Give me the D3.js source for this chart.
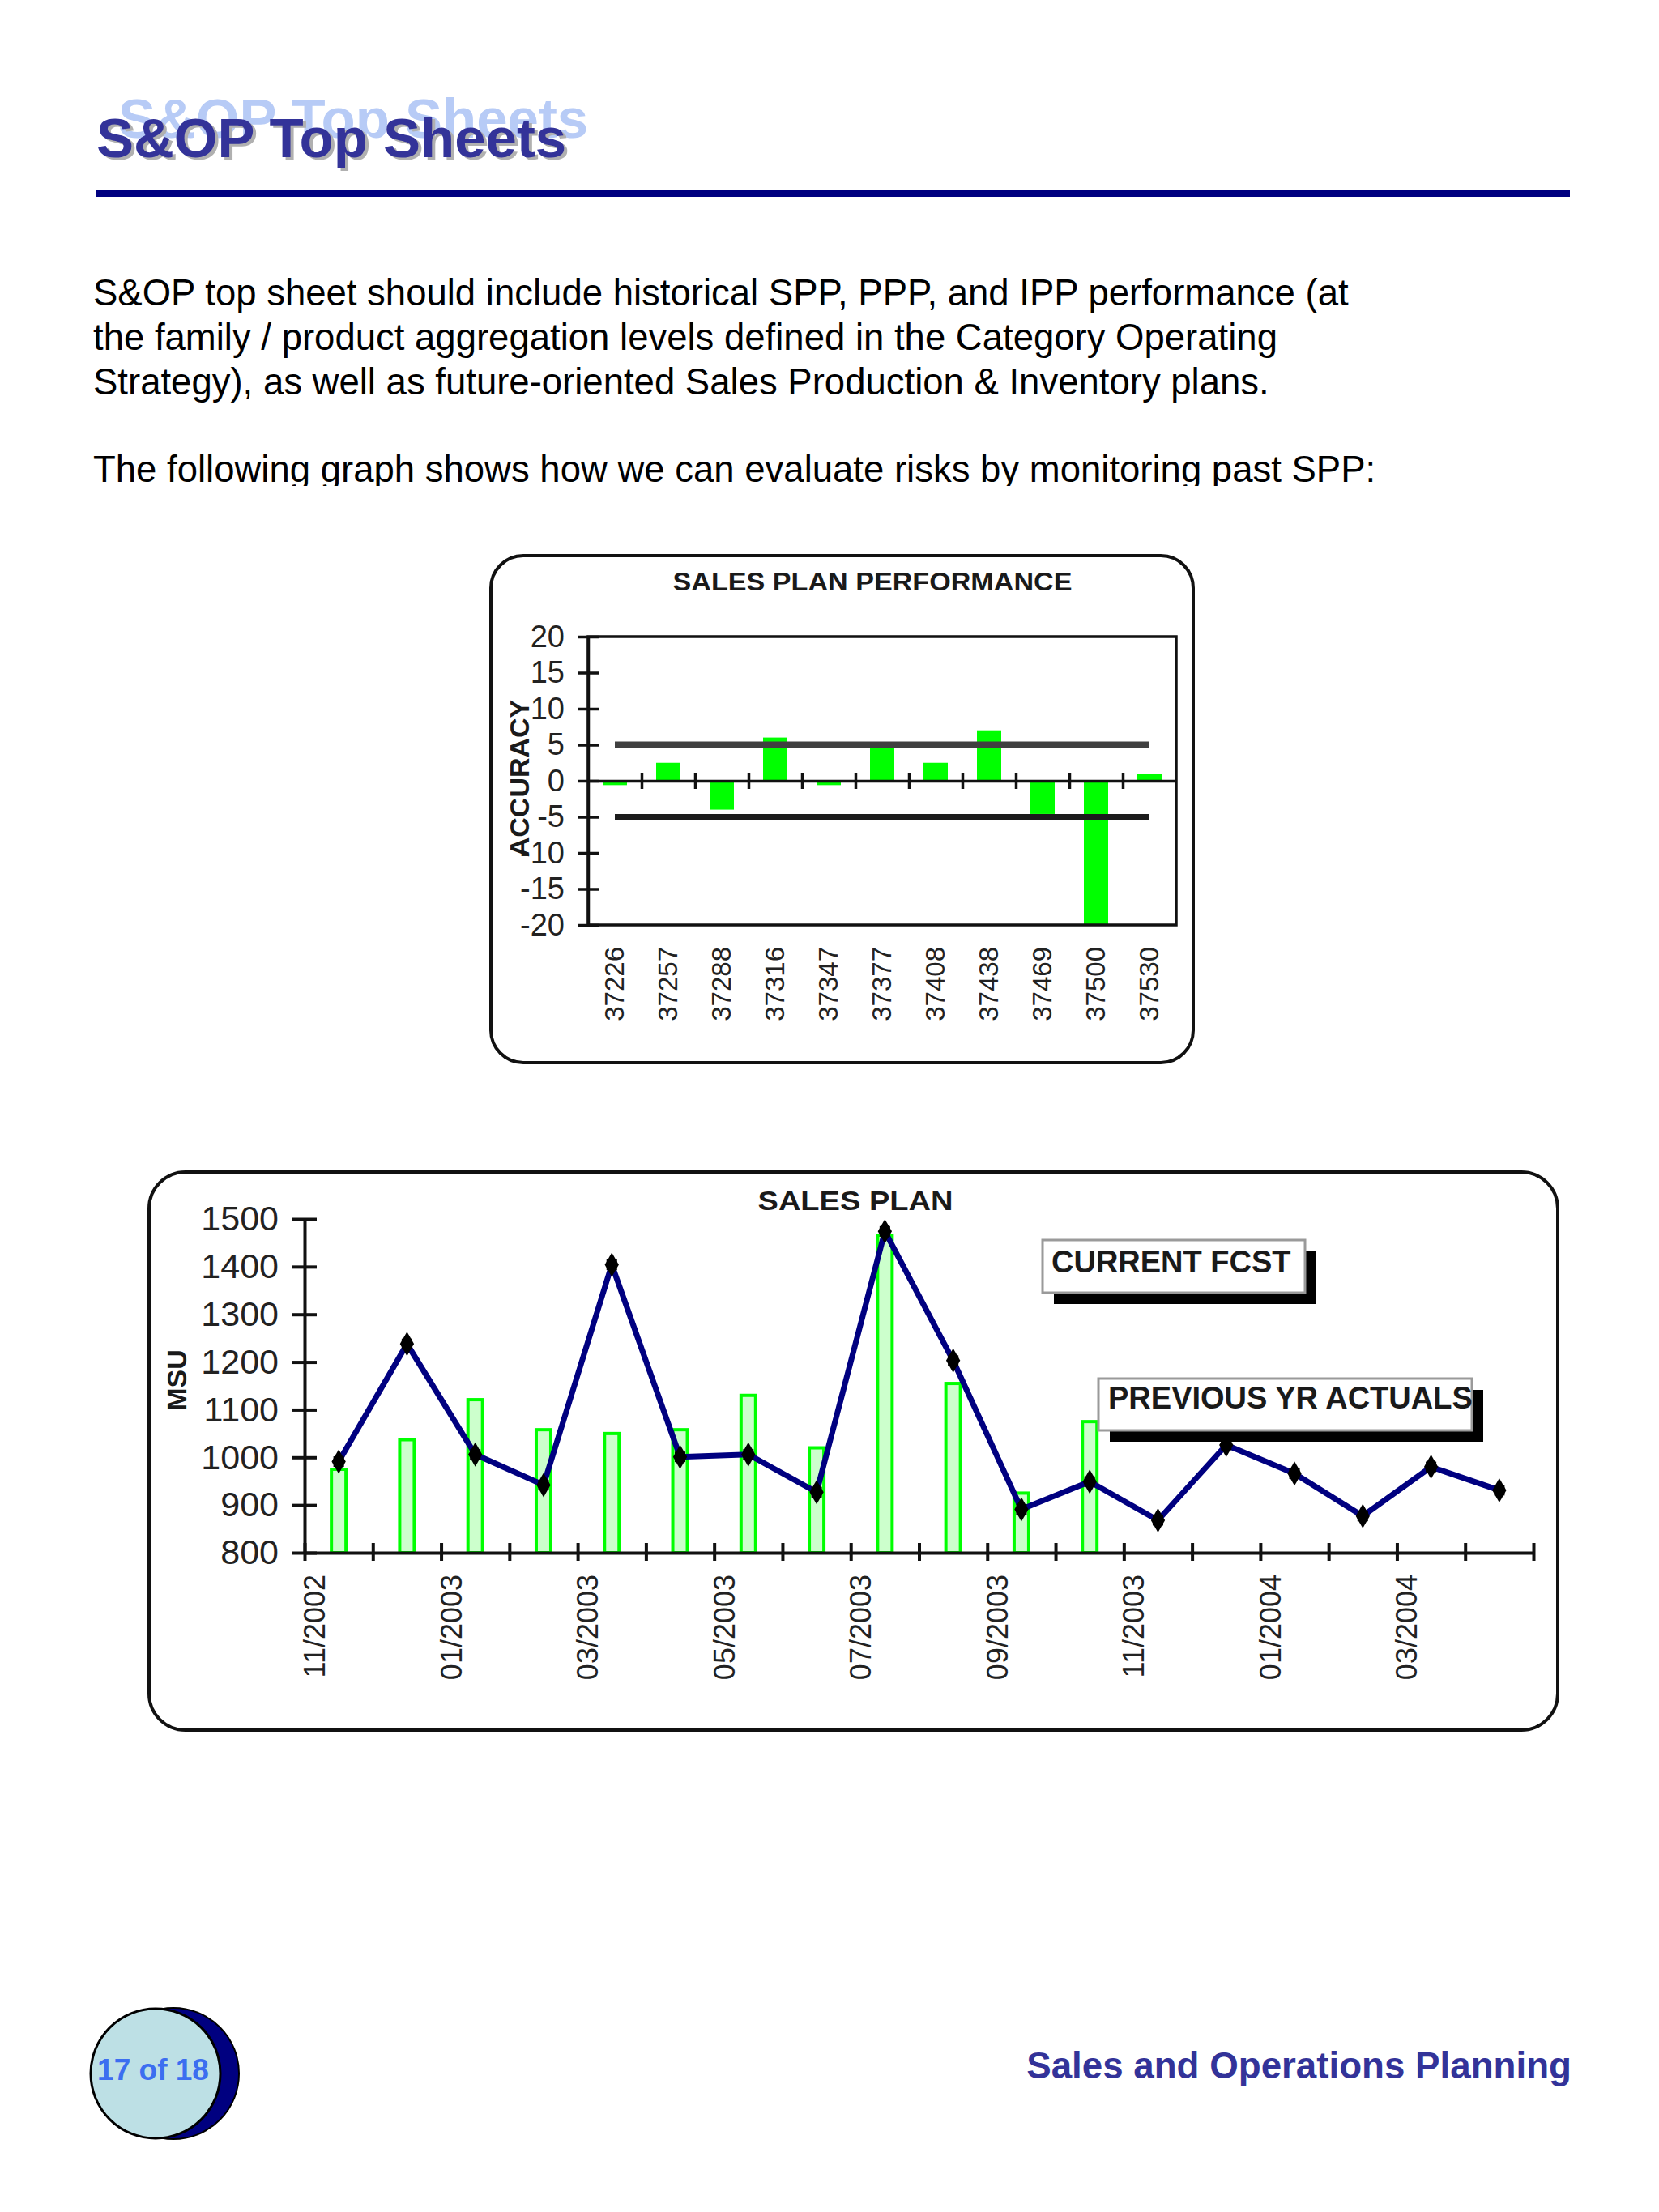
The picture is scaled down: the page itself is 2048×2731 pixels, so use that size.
<!DOCTYPE html>
<html>
<head>
<meta charset="utf-8">
<script src="https://cdn.jsdelivr.net/npm/d3@7"></script>
<style>
  body { margin: 0; background: #fff; }
  svg { display: block; }
  text { font-family: "Liberation Sans", Arial, sans-serif; }
</style>
</head>
<body>
<div id="page"></div>
<script>
// ---- top chart: sales plan performance
const sppCategories = ["37226", "37257", "37288", "37316", "37347", "37377", "37408", "37438", "37469", "37500", "37530"];
const sppAccuracy = [-0.6, 2.5, -4, 6, -0.6, 5, 2.5, 7, -4.6, -20, 1];
const sppUpperLimit = [5, 5, 5, 5, 5, 5, 5, 5, 5, 5, 5];
const sppLowerLimit = [-5, -5, -5, -5, -5, -5, -5, -5, -5, -5, -5];
const sppYTicks = [-20, -15, -10, -5, 0, 5, 10, 15, 20];

// ---- bottom chart: sales plan
const planMonths = ["11/2002", "12/2002", "01/2003", "02/2003", "03/2003", "04/2003", "05/2003", "06/2003", "07/2003",
  "08/2003", "09/2003", "10/2003", "11/2003", "12/2003", "01/2004", "02/2004", "03/2004", "04/2004"];
const planTickLabels = ["11/2002", "01/2003", "03/2003", "05/2003", "07/2003", "09/2003", "11/2003", "01/2004", "03/2004"];
const currentFcst = [991, 1238, 1006, 942, 1404, 1001, 1006, 927, 1474, 1203, 891, 949, 868, 1026, 966, 877, 980, 931];
const previousYrActuals = [975, 1037, 1121, 1058, 1050, 1058, 1130, 1020, 1466, 1155, 925, 1075, null, null, null, null, null, null];
const planYTicks = [800, 900, 1000, 1100, 1200, 1300, 1400, 1500];
const planLegend = ["CURRENT FCST", "PREVIOUS YR ACTUALS"];

// ---- page text
const bodyLines = [
  "S&OP top sheet should include historical SPP, PPP, and IPP performance (at",
  "the family / product aggregation levels defined in the Category Operating",
  "Strategy), as well as future-oriented Sales Production & Inventory plans."
];
const bodyLast = "The following graph shows how we can evaluate risks by monitoring past SPP:";

const svg = d3.select("#page").append("svg")
  .attr("width", 2048)
  .attr("height", 2731);

svg.append("rect").attr("width", 2048).attr("height", 2731).attr("fill", "#fff");

const chartFont = "'Liberation Sans', Arial, sans-serif";

// ---------- header
const title = "S&OP Top Sheets";
svg.append("text").attr("x", 146).attr("y", 170)
  .style("font-size", "69px").style("font-weight", "bold").attr("fill", "#b7cbf6").text(title);
svg.append("text").attr("x", 123).attr("y", 197)
  .style("font-size", "69px").style("font-weight", "bold").attr("fill", "#b0b0b0").text(title);
svg.append("text").attr("x", 119).attr("y", 194)
  .style("font-size", "69px").style("font-weight", "bold").attr("fill", "#333399").text(title);

svg.append("rect").attr("x", 118).attr("y", 235).attr("width", 1820).attr("height", 8).attr("fill", "#000080");

// body paragraph
svg.selectAll(".body-line")
  .data(bodyLines)
  .join("text")
  .attr("class", "body-line")
  .attr("x", 115)
  .attr("y", (d, i) => 377 + i * 55)
  .style("font-size", "45.5px")
  .attr("fill", "#000")
  .text((d) => d);

svg.append("clipPath").attr("id", "cutLast")
  .append("rect").attr("x", 0).attr("y", 540).attr("width", 2048).attr("height", 60);
svg.append("text")
  .attr("x", 115).attr("y", 595)
  .attr("clip-path", "url(#cutLast)")
  .style("font-size", "45.5px")
  .attr("fill", "#000")
  .text(bodyLast);

// ---------- top chart
const c1 = svg.append("g");
c1.append("rect")
  .attr("x", 606).attr("y", 686).attr("width", 867).attr("height", 626).attr("rx", 40)
  .attr("fill", "#fff").attr("stroke", "#111").attr("stroke-width", 4);

c1.append("text")
  .attr("x", 1077).attr("y", 729)
  .attr("text-anchor", "middle")
  .attr("textLength", 493).attr("lengthAdjust", "spacingAndGlyphs")
  .style("font-size", "32px").style("font-weight", "bold")
  .attr("fill", "#1a1a1a")
  .text("SALES PLAN PERFORMANCE");

const p1 = { left: 726, right: 1452, top: 786, bottom: 1142 };
const x1 = d3.scaleBand().domain(sppCategories).range([p1.left, p1.right]);
const x1Idx = d3.scaleLinear().domain([0, sppCategories.length]).range([p1.left, p1.right]);
const y1 = d3.scaleLinear().domain([-20, 20]).range([p1.bottom, p1.top]);

// bars
const barW1 = 30;
c1.selectAll(".spp-bar")
  .data(sppAccuracy)
  .join("rect")
  .attr("class", "spp-bar")
  .attr("x", (d, i) => x1(sppCategories[i]) + (x1.bandwidth() - barW1) / 2)
  .attr("width", barW1)
  .attr("y", (d) => y1(Math.max(0, d)))
  .attr("height", (d) => Math.abs(y1(d) - y1(0)))
  .attr("fill", "#00ff00");

// limit lines
const limitLine = d3.line()
  .x((d, i) => x1(sppCategories[i]) + x1.bandwidth() / 2)
  .y((d) => y1(d));
c1.append("path").datum(sppUpperLimit).attr("d", limitLine)
  .attr("fill", "none").attr("stroke", "#404040").attr("stroke-width", 8);
c1.append("path").datum(sppLowerLimit).attr("d", limitLine)
  .attr("fill", "none").attr("stroke", "#1c1c1c").attr("stroke-width", 7);

// plot border
c1.append("rect")
  .attr("x", p1.left).attr("y", p1.top)
  .attr("width", p1.right - p1.left).attr("height", p1.bottom - p1.top)
  .attr("fill", "none").attr("stroke", "#111").attr("stroke-width", 3.5);

// y axis
const yAxis1 = c1.append("g")
  .attr("transform", `translate(${p1.left},0)`)
  .call(d3.axisLeft(y1).tickValues(sppYTicks).tickFormat((d) => String(d))
    .tickSize(13).tickSizeOuter(0).tickPadding(16));
yAxis1.select(".domain").attr("stroke", "#111").attr("stroke-width", 3.5);
yAxis1.selectAll(".tick line").attr("x1", 13).attr("stroke", "#111").attr("stroke-width", 3.5);
yAxis1.selectAll(".tick text")
  .style("font-size", "38px").attr("fill", "#222").style("font-family", chartFont);

// zero axis with boundary ticks
const xAxis1 = c1.append("g")
  .attr("transform", `translate(0,${y1(0)})`)
  .call(d3.axisBottom(x1Idx).tickValues(d3.range(1, sppCategories.length)).tickSize(10).tickSizeOuter(0).tickFormat(""));
xAxis1.select(".domain").attr("stroke", "#111").attr("stroke-width", 3.5);
xAxis1.selectAll(".tick line").attr("y1", -10).attr("stroke", "#111").attr("stroke-width", 3.5);

// category labels
const xLab1 = c1.append("g")
  .attr("transform", "translate(0,1169)")
  .call(d3.axisBottom(x1).tickSize(0));
xLab1.select(".domain").remove();
xLab1.selectAll(".tick text")
  .attr("transform", "rotate(-90)")
  .attr("x", 0).attr("y", 11).attr("dy", null)
  .attr("text-anchor", "end")
  .style("font-size", "33px").attr("fill", "#222")
  .style("font-family", chartFont);

// y title
c1.append("text")
  .attr("transform", "translate(653,961) rotate(-90)")
  .attr("text-anchor", "middle")
  .style("font-size", "34px").style("font-weight", "bold")
  .attr("fill", "#1a1a1a")
  .text("ACCURACY");

// ---------- bottom chart
const c2 = svg.append("g");
c2.append("rect")
  .attr("x", 184).attr("y", 1447).attr("width", 1739).attr("height", 689).attr("rx", 45)
  .attr("fill", "#fff").attr("stroke", "#111").attr("stroke-width", 4);

c2.append("text")
  .attr("x", 1056).attr("y", 1494)
  .attr("text-anchor", "middle")
  .attr("textLength", 241).attr("lengthAdjust", "spacingAndGlyphs")
  .style("font-size", "34px").style("font-weight", "bold")
  .attr("fill", "#1a1a1a")
  .text("SALES PLAN");

const p2 = { left: 376, right: 1893, top: 1505, bottom: 1917 };
const x2 = d3.scaleBand().domain(planMonths).range([p2.left, p2.right]);
const x2Idx = d3.scaleLinear().domain([0, planMonths.length]).range([p2.left, p2.right]);
const y2 = d3.scaleLinear().domain([800, 1500]).range([p2.bottom, p2.top]);

// previous year bars
const barW2 = 18;
c2.selectAll(".prev-bar")
  .data(previousYrActuals.map((v, i) => ({ month: planMonths[i], v })).filter((d) => d.v != null))
  .join("rect")
  .attr("class", "prev-bar")
  .attr("x", (d) => x2(d.month) + (x2.bandwidth() - barW2) / 2)
  .attr("width", barW2)
  .attr("y", (d) => y2(d.v))
  .attr("height", (d) => y2(800) - y2(d.v))
  .attr("fill", "#ccffcc").attr("stroke", "#00ff00").attr("stroke-width", 4);

// current forecast line
const fcstLine = d3.line()
  .x((d, i) => x2(planMonths[i]) + x2.bandwidth() / 2)
  .y((d) => y2(d));
c2.append("path").datum(currentFcst).attr("d", fcstLine)
  .attr("fill", "none").attr("stroke", "#000080").attr("stroke-width", 7).attr("stroke-linejoin", "round");

const markers = c2.selectAll(".fcst-pt")
  .data(currentFcst)
  .join("g")
  .attr("class", "fcst-pt")
  .attr("transform", (d, i) => `translate(${x2(planMonths[i]) + x2.bandwidth() / 2},${y2(d)})`);
markers.append("path").attr("d", d3.symbol(d3.symbolDiamond, 260)).attr("fill", "#000");
markers.append("path").attr("d", d3.symbol(d3.symbolSquare, 170)).attr("fill", "#000");

// y axis
const yAxis2 = c2.append("g")
  .attr("transform", `translate(${p2.left},0)`)
  .call(d3.axisLeft(y2).tickValues(planYTicks).tickFormat((d) => String(d))
    .tickSize(15).tickSizeOuter(0).tickPadding(17));
yAxis2.select(".domain").attr("stroke", "#111").attr("stroke-width", 4);
yAxis2.selectAll(".tick line").attr("x1", 15).attr("stroke", "#111").attr("stroke-width", 4);
yAxis2.selectAll(".tick text")
  .style("font-size", "43px").attr("fill", "#222").style("font-family", chartFont);

// x axis
const xAxis2 = c2.append("g")
  .attr("transform", `translate(0,${p2.bottom})`)
  .call(d3.axisBottom(x2Idx).tickValues(d3.range(0, planMonths.length + 1)).tickSize(10).tickSizeOuter(0).tickFormat(""));
xAxis2.select(".domain").attr("stroke", "#111").attr("stroke-width", 4);
xAxis2.selectAll(".tick line").attr("y1", -12).attr("stroke", "#111").attr("stroke-width", 4);

const xLab2 = c2.append("g")
  .attr("transform", "translate(0,1944)")
  .call(d3.axisBottom(x2).tickValues(planTickLabels).tickSize(0));
xLab2.select(".domain").remove();
xLab2.selectAll(".tick text")
  .attr("transform", "rotate(-90)")
  .attr("x", 0).attr("y", 25 - x2.bandwidth() / 2).attr("dy", null)
  .attr("text-anchor", "end")
  .style("font-size", "36px").attr("fill", "#222")
  .style("font-family", chartFont);

// y title
c2.append("text")
  .attr("transform", "translate(230,1704) rotate(-90)")
  .attr("text-anchor", "middle")
  .style("font-size", "34px").style("font-weight", "bold")
  .attr("fill", "#1a1a1a")
  .text("MSU");

// series labels (text boxes with shadow)
const labelBoxes = [
  { x: 1287, y: 1531, w: 324, h: 65, tx: 1298, ty: 1571 },
  { x: 1356, y: 1702, w: 461, h: 64, tx: 1368, ty: 1739 }
];
const legend = c2.selectAll(".series-label")
  .data(planLegend)
  .join("g")
  .attr("class", "series-label");
legend.append("rect")
  .attr("x", (d, i) => labelBoxes[i].x + 14).attr("y", (d, i) => labelBoxes[i].y + 14)
  .attr("width", (d, i) => labelBoxes[i].w).attr("height", (d, i) => labelBoxes[i].h)
  .attr("fill", "#000");
legend.append("rect")
  .attr("x", (d, i) => labelBoxes[i].x).attr("y", (d, i) => labelBoxes[i].y)
  .attr("width", (d, i) => labelBoxes[i].w).attr("height", (d, i) => labelBoxes[i].h)
  .attr("fill", "#fff").attr("stroke", "#9a9a9a").attr("stroke-width", 3);
legend.append("text")
  .attr("x", (d, i) => labelBoxes[i].tx).attr("y", (d, i) => labelBoxes[i].ty)
  .style("font-size", "38px").style("font-weight", "bold")
  .attr("fill", "#1a1a1a")
  .text((d) => d);

// ---------- footer
svg.append("circle").attr("cx", 214).attr("cy", 2560).attr("r", 81)
  .attr("fill", "#000080").attr("stroke", "#000").attr("stroke-width", 2);
svg.append("circle").attr("cx", 192).attr("cy", 2560).attr("r", 80)
  .attr("fill", "#bde0e5").attr("stroke", "#000").attr("stroke-width", 3);
svg.append("text").attr("x", 189).attr("y", 2568)
  .attr("text-anchor", "middle")
  .style("font-size", "37px").style("font-weight", "bold")
  .attr("fill", "#3c6ef0")
  .text("17 of 18");

svg.append("text").attr("x", 1940).attr("y", 2566)
  .attr("text-anchor", "end")
  .style("font-size", "45.7px").style("font-weight", "bold")
  .attr("fill", "#333399")
  .text("Sales and Operations Planning");
</script>
</body>
</html>
